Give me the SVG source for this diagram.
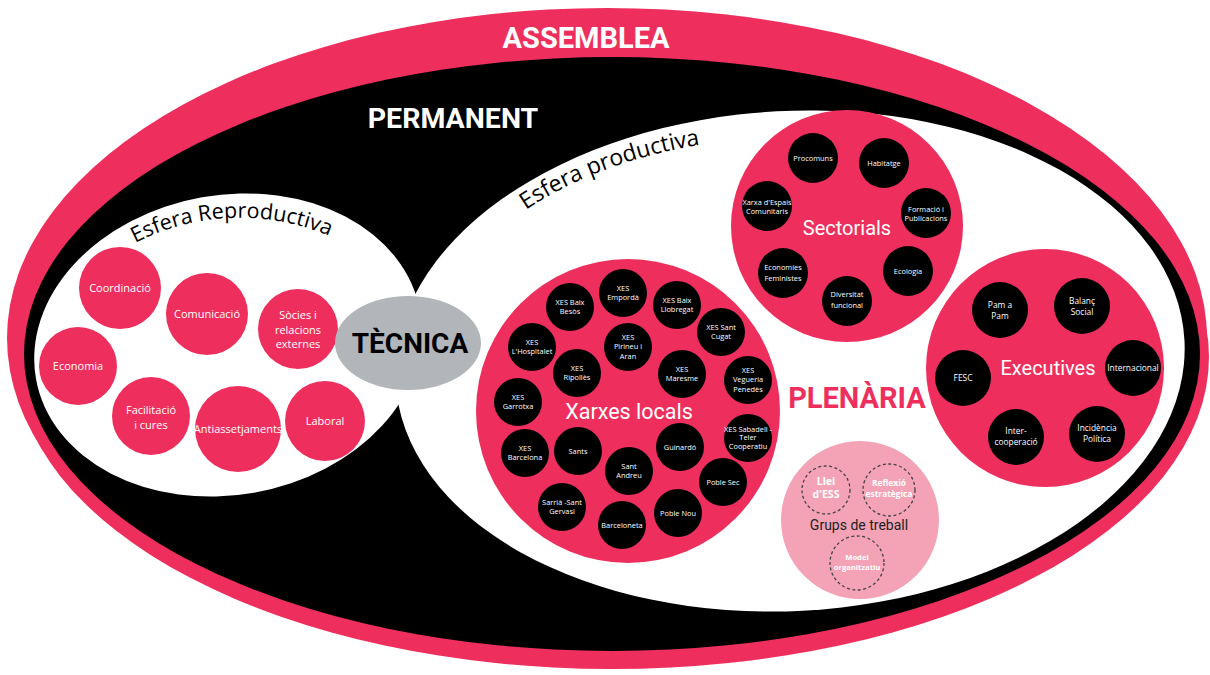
<svg xmlns="http://www.w3.org/2000/svg" width="1210" height="675" viewBox="0 0 1210 675">
<defs>
<style>
.pk{fill:#EE2F5E}
.bk{fill:#000}
.lp{fill:#F4A3B6}
.dash{fill:none;stroke:#444;stroke-width:1.3;stroke-dasharray:3 2.5}
.big{font-family:Roboto,"Liberation Sans",sans-serif;font-weight:700;text-anchor:middle}
.ttl{font-family:Roboto,"Liberation Sans",sans-serif;fill:#fff;text-anchor:middle}
.l11{font-family:"Open Sans","Liberation Sans",sans-serif;font-size:11px;fill:#fff;text-anchor:middle}
.s7{font-family:"Open Sans","Liberation Sans",sans-serif;font-size:7.4px;fill:#fff;text-anchor:middle}
.s8{font-family:"Open Sans","Liberation Sans",sans-serif;font-size:8.4px;fill:#fff;text-anchor:middle}
.gb{font-family:"Open Sans","Liberation Sans",sans-serif;font-weight:700;fill:#fff;text-anchor:middle}
.arc{font-family:"Open Sans","Liberation Sans",sans-serif;fill:#000}
</style>
<path id="arcRep" d="M 135,243 A 229,229 0 0 1 338,240"/>
<path id="arcProd" d="M 526,210 A 362,224 0 0 1 973,167"/>
</defs>
<rect width="1210" height="675" fill="#fff"/>

<g id="assemblea">
<ellipse class="pk" cx="607" cy="338" rx="600" ry="330"/>
<ellipse class="pk" cx="612" cy="357" rx="597" ry="312"/>
<text class="big" x="586" y="48" font-size="29" fill="#fff">ASSEMBLEA</text>
</g>

<g id="permanent">
<ellipse class="bk" cx="612" cy="354" rx="588" ry="297"/>
<text class="big" x="453" y="128" font-size="28.5" fill="#fff">PERMANENT</text>
</g>

<g id="esfera-reproductiva">
<ellipse fill="#fff" cx="228" cy="345" rx="195" ry="150" transform="rotate(-10 228 345)"/>
<text class="arc" font-size="21.5"><textPath href="#arcRep">Esfera Reproductiva</textPath></text>
</g>

<g id="esfera-productiva">
<ellipse fill="#fff" cx="790" cy="361" rx="395" ry="250" transform="rotate(-3 790 361)"/>
<text class="arc" font-size="23"><textPath href="#arcProd">Esfera productiva</textPath></text>
</g>

<g id="reproductiva-nodes">
<g id="coordinacio"><circle class="pk" cx="120" cy="288" r="41"/><text class="l11" x="120" y="292">Coordinació</text></g>
<g id="comunicacio"><circle class="pk" cx="207" cy="314" r="41"/><text class="l11" x="207" y="318">Comunicació</text></g>
<g id="socies"><circle class="pk" cx="298" cy="329" r="40"/><text class="l11" x="298" y="319">Sòcies i<tspan x="298" dy="14.7">relacions</tspan><tspan x="298" dy="14.7">externes</tspan></text></g>
<g id="economia"><circle class="pk" cx="78" cy="366" r="39"/><text class="l11" x="78" y="370">Economia</text></g>
<g id="facilitacio"><circle class="pk" cx="151" cy="416" r="39"/><text class="l11" x="151" y="414">Facilitació<tspan x="151" dy="15">i cures</tspan></text></g>
<g id="antiassetjaments"><circle class="pk" cx="238" cy="429" r="43"/><text class="l11" x="238" y="433">Antiassetjaments</text></g>
<g id="laboral"><circle class="pk" cx="325" cy="421" r="40"/><text class="l11" x="325" y="425">Laboral</text></g>
</g>

<g id="tecnica">
<ellipse fill="#B2B6BA" cx="408" cy="343" rx="73" ry="47"/>
<text class="big" x="410" y="353" font-size="28" fill="#000">TÈCNICA</text>
</g>

<g id="plenaria">
<text class="big" x="857" y="408" font-size="29" fill="#EE2F5E">PLENÀRIA</text>
</g>

<g id="xarxes-locals">
<circle class="pk" cx="628" cy="411" r="152"/>
<text class="ttl" x="629" y="419" font-size="21.5">Xarxes locals</text>
<g id="xl-baix-besos"><circle class="bk" cx="570" cy="307" r="24"/><text class="s7" x="570" y="305">XES Baix<tspan x="570" dy="9.3">Besòs</tspan></text></g>
<g id="xl-emporda"><circle class="bk" cx="623" cy="293" r="24"/><text class="s7" x="623" y="291">XES<tspan x="623" dy="9.3">Empordà</tspan></text></g>
<g id="xl-baix-llobregat"><circle class="bk" cx="677" cy="305" r="24"/><text class="s7" x="677" y="303">XES Baix<tspan x="677" dy="9.3">Llobregat</tspan></text></g>
<g id="xl-sant-cugat"><circle class="bk" cx="721" cy="332" r="24"/><text class="s7" x="721" y="330">XES Sant<tspan x="721" dy="9.3">Cugat</tspan></text></g>
<g id="xl-hospitalet"><circle class="bk" cx="532" cy="347" r="24"/><text class="s7" x="532" y="345">XES<tspan x="532" dy="9.3">L'Hospitalet</tspan></text></g>
<g id="xl-pirineu"><circle class="bk" cx="628" cy="347" r="24"/><text class="s7" x="628" y="340">XES<tspan x="628" dy="9.3">Pirineu i</tspan><tspan x="628" dy="9.3">Aran</tspan></text></g>
<g id="xl-ripolles"><circle class="bk" cx="577" cy="373" r="24"/><text class="s7" x="577" y="371">XES<tspan x="577" dy="9.3">Ripollès</tspan></text></g>
<g id="xl-maresme"><circle class="bk" cx="682" cy="374" r="24"/><text class="s7" x="682" y="372">XES<tspan x="682" dy="9.3">Maresme</tspan></text></g>
<g id="xl-vegueria"><circle class="bk" cx="748" cy="380" r="24"/><text class="s7" x="748" y="373">XES<tspan x="748" dy="9.3">Vegueria</tspan><tspan x="748" dy="9.3">Penedès</tspan></text></g>
<g id="xl-garrotxa"><circle class="bk" cx="518" cy="402" r="24"/><text class="s7" x="518" y="400">XES<tspan x="518" dy="9.3">Garrotxa</tspan></text></g>
<g id="xl-barcelona"><circle class="bk" cx="525" cy="453" r="24"/><text class="s7" x="525" y="451">XES<tspan x="525" dy="9.3">Barcelona</tspan></text></g>
<g id="xl-sants"><circle class="bk" cx="578" cy="451" r="24"/><text class="s7" x="578" y="454">Sants</text></g>
<g id="xl-guinardo"><circle class="bk" cx="680" cy="447" r="24"/><text class="s7" x="680" y="450">Guinardó</text></g>
<g id="xl-sabadell"><circle class="bk" cx="748" cy="438" r="24"/><text class="s7" x="748" y="432" font-size="6.6">XES Sabadell -<tspan x="748" dy="8.3">Teler</tspan><tspan x="748" dy="8.3">Cooperatiu</tspan></text></g>
<g id="xl-sant-andreu"><circle class="bk" cx="629" cy="471" r="24"/><text class="s7" x="629" y="469">Sant<tspan x="629" dy="9.3">Andreu</tspan></text></g>
<g id="xl-poble-sec"><circle class="bk" cx="723" cy="482" r="24"/><text class="s7" x="723" y="485">Poble Sec</text></g>
<g id="xl-sarria"><circle class="bk" cx="562" cy="507" r="24"/><text class="s7" x="562" y="505">Sarrià -Sant<tspan x="562" dy="9.3">Gervasi</tspan></text></g>
<g id="xl-poble-nou"><circle class="bk" cx="678" cy="513" r="24"/><text class="s7" x="678" y="516">Poble Nou</text></g>
<g id="xl-barceloneta"><circle class="bk" cx="622" cy="525" r="24"/><text class="s7" x="622" y="528">Barceloneta</text></g>
</g>

<g id="sectorials">
<circle class="pk" cx="847" cy="226" r="116"/>
<text class="ttl" x="847" y="235" font-size="20">Sectorials</text>
<g id="s-procomuns"><circle class="bk" cx="813" cy="158" r="25"/><text class="s7" x="813" y="161">Procomuns</text></g>
<g id="s-habitatge"><circle class="bk" cx="884" cy="163" r="25"/><text class="s7" x="884" y="166">Habitatge</text></g>
<g id="s-espais"><circle class="bk" cx="767" cy="206" r="25"/><text class="s7" x="767" y="205">Xarxa d'Espais<tspan x="767" dy="9.3">Comunitaris</tspan></text></g>
<g id="s-formacio"><circle class="bk" cx="926" cy="213" r="25"/><text class="s7" x="926" y="212">Formació i<tspan x="926" dy="9.3">Publicacions</tspan></text></g>
<g id="s-feministes"><circle class="bk" cx="783" cy="273" r="25"/><text class="s7" x="783" y="270">Economies<tspan x="783" dy="10.5">Feministes</tspan></text></g>
<g id="s-ecologia"><circle class="bk" cx="908" cy="271" r="25"/><text class="s7" x="908" y="274">Ecologia</text></g>
<g id="s-diversitat"><circle class="bk" cx="847" cy="301" r="25"/><text class="s7" x="847" y="297">Diversitat<tspan x="847" dy="10.5">funcional</tspan></text></g>
</g>

<g id="executives">
<circle class="pk" cx="1045" cy="368" r="119"/>
<text class="ttl" x="1048" y="375" font-size="20">Executives</text>
<g id="e-pam"><circle class="bk" cx="1000" cy="310" r="28"/><text class="s8" x="1000" y="308">Pam a<tspan x="1000" dy="11.3">Pam</tspan></text></g>
<g id="e-balanc"><circle class="bk" cx="1082" cy="306" r="28"/><text class="s8" x="1082" y="304">Balanç<tspan x="1082" dy="11.3">Social</tspan></text></g>
<g id="e-fesc"><circle class="bk" cx="963" cy="378" r="28"/><text class="s8" x="963" y="381">FESC</text></g>
<g id="e-internacional"><circle class="bk" cx="1133" cy="368" r="28"/><text class="s8" x="1133" y="371" font-size="7.9">Internacional</text></g>
<g id="e-intercooperacio"><circle class="bk" cx="1016" cy="437" r="28"/><text class="s8" x="1016" y="434">Inter-<tspan x="1016" dy="11.3">cooperació</tspan></text></g>
<g id="e-incidencia"><circle class="bk" cx="1097" cy="434" r="28"/><text class="s8" x="1097" y="431">Incidència<tspan x="1097" dy="11.3">Política</tspan></text></g>
</g>

<g id="grups-treball">
<circle class="lp" cx="860" cy="520" r="79"/>
<text x="859" y="530" font-family="Roboto,'Liberation Sans',sans-serif" font-size="14" fill="#222" text-anchor="middle">Grups de treball</text>
<g id="g-llei"><circle class="dash" cx="826" cy="490" r="24"/><text class="gb" x="826" y="485" font-size="10.5">Llei<tspan x="826" dy="12.5">d'ESS</tspan></text></g>
<g id="g-reflexio"><circle class="dash" cx="889" cy="490" r="26"/><text class="gb" x="889" y="486" font-size="8.4">Reflexió<tspan x="889" dy="11">estratègica</tspan></text></g>
<g id="g-model"><circle class="dash" cx="857" cy="563" r="27"/><text class="gb" x="857" y="560" font-size="7.6">Model<tspan x="857" dy="10">organitzatiu</tspan></text></g>
</g>

<g id="connectors"/>
</svg>
